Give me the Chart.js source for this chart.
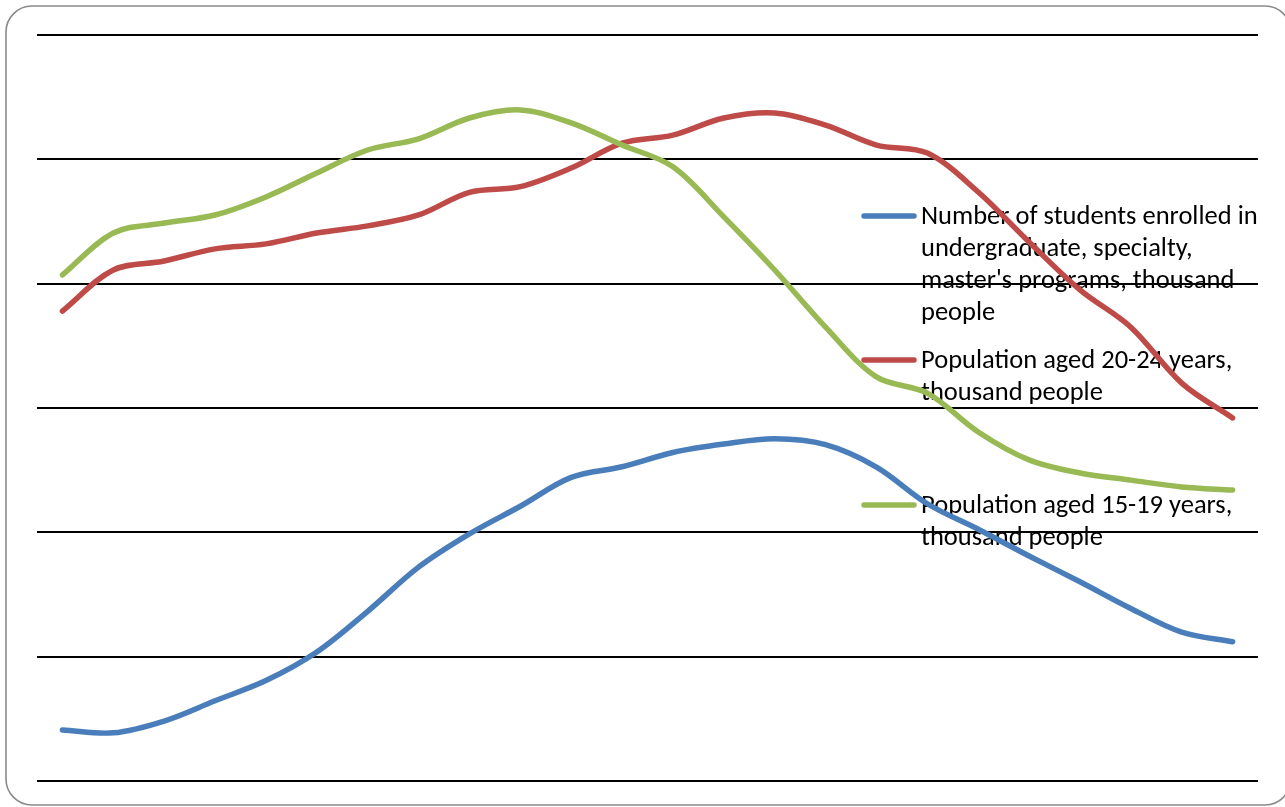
<!DOCTYPE html>
<html>
<head>
<meta charset="utf-8">
<script src="https://cdn.jsdelivr.net/npm/chart.js@4/dist/chart.umd.min.js"></script>
<style>
  html, body { margin: 0; padding: 0; background: #fff; }
  #wrap { width: 1285px; height: 807px; position: relative; }
</style>
</head>
<body>
<div id="wrap"><canvas id="c" width="1285" height="807"></canvas></div>
<script>
// Years on the horizontal axis (not labelled on the chart)
const years = [1994, 1995, 1996, 1997, 1998, 1999, 2000, 2001, 2002, 2003, 2004, 2005,
               2006, 2007, 2008, 2009, 2010, 2011, 2012, 2013, 2014, 2015, 2016, 2017];

// Students enrolled in bachelor's, specialist and master's programmes, thousand
const students = [2820, 2775, 2965, 3290, 3615, 4075, 4730, 5440, 5975, 6420, 6885, 7055,
                  7285, 7420, 7505, 7410, 7050, 6460, 6050, 5620, 5205, 4775, 4395, 4240];

// Population aged 20-24, thousand
const pop2024 = [9560, 10220, 10365, 10560, 10640, 10815, 10930, 11105, 11470, 11560, 11860, 12260,
                 12390, 12665, 12745, 12550, 12230, 12100, 11475, 10670, 9900, 9300, 8400, 7840];

// Population aged 15-19, thousand
const pop1519 = [10140, 10815, 10975, 11105, 11395, 11780, 12150, 12330, 12665, 12795, 12585, 12230,
                 11880, 11075, 10220, 9300, 8500, 8240, 7615, 7165, 6955, 6840, 6730, 6680];

// Vertical scale bounds and step
const yMin = 2000, yMax = 14000, yStep = 2000;

const seriesNames = [
  ["Number of students enrolled in", "undergraduate, specialty,", "master's programs, thousand", "people"],
  ["Population aged 20-24 years,", "thousand people"],
  ["Population aged 15-19 years,", "thousand people"]
];
const seriesColors = ["#4A7EBB", "#BE4B48", "#98B954"];

// Rounded frame around the whole chart
const framePlugin = {
  id: 'frame',
  beforeDraw(chart) {
    const ctx = chart.ctx;
    ctx.save();
    ctx.fillStyle = '#fff';
    ctx.fillRect(0, 0, chart.width, chart.height);
    ctx.strokeStyle = '#8a8a8a';
    ctx.lineWidth = 1.6;
    ctx.beginPath();
    ctx.roundRect(6, 6, 1285, 799, 26);
    ctx.stroke();
    ctx.restore();
  }
};

// Legend placed inside the plot, drawn beneath the series lines
const innerLegend = {
  id: 'innerLegend',
  beforeDatasetsDraw(chart) {
    const ctx = chart.ctx;
    const tops = [216, 360, 505];
    const lineH = 32;
    ctx.save();
    ctx.font = '26.5px Carlito, Lato, "Open Sans", sans-serif';
    ctx.textBaseline = 'middle';
    ctx.fillStyle = '#000';
    chart.data.datasets.forEach((ds, i) => {
      const y0 = tops[i];
      ctx.strokeStyle = ds.borderColor;
      ctx.lineWidth = 5.5;
      ctx.lineCap = 'round';
      ctx.beginPath();
      ctx.moveTo(864, y0);
      ctx.lineTo(914, y0);
      ctx.stroke();
      seriesNames[i].forEach((t, k) => ctx.fillText(t, 921, y0 + 1 + k * lineH));
    });
    ctx.restore();
  }
};

const mk = (i, data, order) => ({
  label: seriesNames[i].join(' '),
  data,
  borderColor: seriesColors[i],
  backgroundColor: seriesColors[i],
  borderWidth: 5.5,
  borderCapStyle: 'round',
  borderJoinStyle: 'round',
  pointRadius: 0,
  tension: 0.34,
  fill: false,
  order
});

new Chart(document.getElementById('c'), {
  type: 'line',
  data: {
    labels: years,
    datasets: [mk(0, students, 3), mk(1, pop2024, 2), mk(2, pop1519, 1)]
  },
  options: {
    responsive: false,
    animation: false,
    layout: { padding: { left: 37, right: 27, top: 35, bottom: 26 } },
    plugins: { legend: { display: false }, tooltip: { enabled: false } },
    scales: {
      x: {
        display: false,
        offset: true
      },
      y: {
        min: yMin,
        max: yMax,
        ticks: { display: false, stepSize: yStep },
        grid: { color: '#000', lineWidth: 2, drawTicks: false },
        border: { display: false }
      }
    }
  },
  plugins: [framePlugin, innerLegend]
});
</script>
</body>
</html>
